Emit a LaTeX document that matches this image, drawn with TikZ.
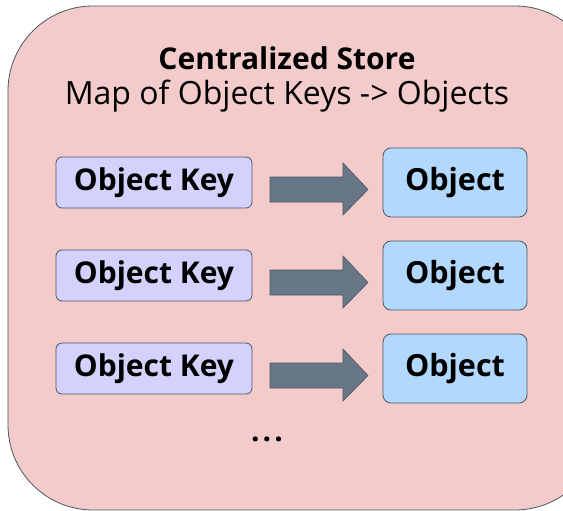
\documentclass[tikz,border=0pt]{standalone}
\usepackage{fontspec}
\setmainfont{Open Sans}
\usetikzlibrary{shapes.arrows}
\definecolor{storefill}{HTML}{F4CBCB}
\definecolor{edgegrey}{HTML}{4A5663}
\definecolor{keyfill}{HTML}{D2D2FD}
\definecolor{objfill}{HTML}{B2D8FE}
\definecolor{arrowfill}{HTML}{687787}
\tikzset{
  keybox/.style={draw=edgegrey, fill=keyfill, rounded corners=6pt, line width=0.8pt,
    minimum width=196pt, minimum height=51pt, inner sep=0pt,
    font=\fontsize{30}{32}\selectfont\bfseries},
  objbox/.style={draw=edgegrey, fill=objfill, rounded corners=8pt, line width=0.8pt,
    minimum width=144pt, minimum height=69pt, inner sep=0pt,
    font=\fontsize{30.5}{32}\selectfont\bfseries},
  bigarrow/.style={draw=edgegrey, fill=arrowfill, line width=0.6pt}
}
\begin{document}
\begin{tikzpicture}[x=1pt,y=-1pt]
\useasboundingbox (0,0) rectangle (563,511);
\clip (0,0) rectangle (563,511);
\draw[draw=edgegrey, fill=storefill, line width=0.8pt, rounded corners=85pt] (8,6) rectangle (600,510);
\node[font=\fontsize{30}{32}\selectfont\bfseries] (title) at (287,58) {Centralized Store};
\node[font=\fontsize{32}{34}\selectfont] (subtitle) at (287,96) {Map of Object Keys -> Objects};
\foreach \i/\dy in {1/0,2/93,3/186}{
  \node[keybox] (k\i) at (154,182.5+\dy) {Object Key};
  \node[objbox] (o\i) at (455,182.5+\dy) {\raisebox{4pt}{Object}};
  \draw[bigarrow] (270,177+\dy) -- (343,177+\dy) -- (343,163+\dy) -- (368,189.5+\dy)
     -- (343,215+\dy) -- (343,202+\dy) -- (270,202+\dy) -- cycle;
}
\node[font=\fontsize{30}{30}\selectfont\bfseries] (dots) at (267,439) {.\hspace{3pt}.\hspace{3pt}.};
\end{tikzpicture}
\end{document}
